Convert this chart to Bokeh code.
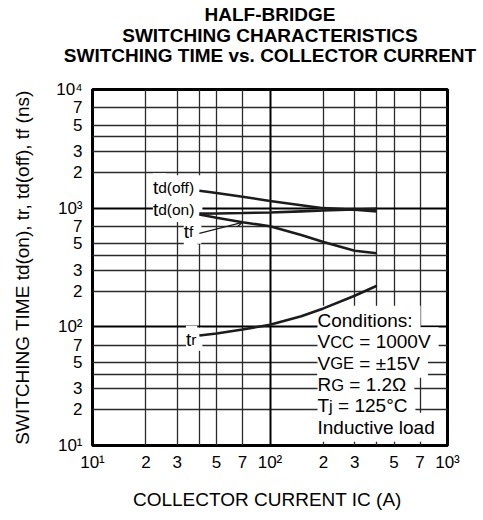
import math
from bokeh.plotting import figure
from bokeh.layouts import column
from bokeh.models import FixedTicker, Label, Arrow, OpenHead, Grid, Div
from bokeh.embed import file_html
from bokeh.resources import INLINE

# ---------------- data ----------------
ic = [40, 50, 70, 100, 150, 200, 300, 400]                      # collector current (A)
td_off = [1400, 1340, 1250, 1150, 1060, 1000, 970, 940]          # ns
td_on = [900, 903, 910, 920, 940, 955, 975, 990]                 # ns
tf = [885, 830, 760, 705, 595, 518, 438, 417]                    # ns
tr = [84.5, 88, 95, 104, 123, 143, 183, 222]                     # ns

x_ticks = [10, 20, 30, 50, 70, 100, 200, 300, 500, 700, 1000]
x_tick_labels = ["10¹", "2", "3", "5", "7", "10²", "2", "3", "5", "7", "10³"]
y_ticks = [10, 20, 30, 50, 70, 100, 200, 300, 500, 700, 1000, 2000, 3000, 5000, 7000, 10000]
y_tick_labels = ["10¹", "2", "3", "5", "7", "10²", "2", "3", "5", "7", "10³", "2", "3", "5", "7", "10⁴"]
x_fine_grid = [20, 30, 40, 50, 70, 200, 300, 400, 500, 700]
x_decade_grid = [100]
y_fine_grid = [20, 30, 40, 50, 70, 200, 300, 400, 500, 700, 2000, 3000, 4000, 5000, 7000]
y_decade_grid = [100, 1000]

title_lines = ["HALF-BRIDGE", "SWITCHING CHARACTERISTICS", "SWITCHING TIME vs. COLLECTOR CURRENT"]
x_label = "COLLECTOR CURRENT  IC (A)"
y_label = "SWITCHING TIME td(on), tr, td(off), tf (ns)"

# (text, is_subscript) pieces
lbl_td_off = [("t", False), ("d(off)", True)]
lbl_td_on = [("t", False), ("d(on)", True)]
lbl_tf = [("t", False), ("f", True)]
lbl_tr = [("t", False), ("r", True)]
conditions = [
    [("Conditions:", False)],
    [("V", False), ("CC", True), (" = 1000V", False)],
    [("V", False), ("GE", True), (" = ±15V", False)],
    [("R", False), ("G", True), (" = 1.2Ω", False)],
    [("T", False), ("j", True), (" = 125°C", False)],
    [("Inductive load", False)],
]

# ---------------- styling ----------------
FONT = "Liberation Sans"
MAIN = 19
SUB_CURVE = 15.5
SUB_COND = 16.5
FRAME_W, FRAME_H = 355, 356
PX_PER_DECADE_Y = FRAME_H / 3.0
CURVE_COLOR = "#1c1c1c"
BORDER_L, BORDER_R, BORDER_T, BORDER_B = 92, 28, 23, 66
TITLE_TOP, TITLE_LINE = 5, 20.5
BASELINE_SHIFT = 8 - 0.36 * MAIN   # from visual centre to the text's alphabetic baseline

ADV = {' ': 278, '(': 333, ')': 333, ',': 278, '-': 333, '.': 278, ':': 278,
       '=': 584, '±': 584, '°': 400, 'Ω': 768,
       'A': 667, 'B': 667, 'C': 722, 'D': 722, 'E': 667, 'F': 611, 'G': 778,
       'H': 722, 'I': 278, 'L': 556, 'M': 833, 'N': 722, 'O': 778, 'R': 722,
       'S': 667, 'T': 611, 'U': 722, 'V': 667, 'W': 944,
       'a': 556, 'c': 500, 'd': 556, 'e': 556, 'f': 278, 'i': 222, 'j': 222,
       'l': 222, 'n': 556, 'o': 556, 'r': 333, 's': 500, 't': 278, 'u': 556, 'v': 500}
for ch in "0123456789":
    ADV[ch] = 556


def text_width(s, size):
    return sum(ADV.get(ch, 556) for ch in s) * size / 1000.0


p = figure(x_axis_type="log", y_axis_type="log",
           x_range=(10, 1000), y_range=(10, 10000),
           frame_width=FRAME_W, frame_height=FRAME_H,
           min_border_left=BORDER_L, min_border_right=BORDER_R,
           min_border_top=BORDER_T, min_border_bottom=BORDER_B,
           output_backend="svg", toolbar_location=None)
p.title.visible = False

p.outline_line_color = "black"
p.outline_line_width = 3
p.background_fill_color = "white"
p.border_fill_color = "white"

for ax, ticks, labels in ((p.xaxis, x_ticks, x_tick_labels), (p.yaxis, y_ticks, y_tick_labels)):
    ax.ticker = FixedTicker(ticks=ticks, minor_ticks=[])
    ax.major_label_overrides = {t: l for t, l in zip(ticks, labels)}
    ax.axis_line_color = None
    ax.major_tick_line_color = None
    ax.minor_tick_line_color = None
    ax.major_label_text_font = FONT
    ax.major_label_text_font_size = "17px"
    ax.major_label_text_color = "black"
    ax.axis_label_text_font = FONT
    ax.axis_label_text_font_size = "19px"
    ax.axis_label_text_font_style = "normal"
    ax.axis_label_text_color = "black"

p.xaxis.major_label_standoff = 1
p.yaxis.major_label_standoff = 4
p.xaxis.axis_label = x_label
p.xaxis.axis_label_standoff = 14
p.yaxis.axis_label = y_label
p.yaxis.axis_label_standoff = 20

p.xgrid.ticker = FixedTicker(ticks=x_fine_grid, minor_ticks=[])
p.ygrid.ticker = FixedTicker(ticks=y_fine_grid, minor_ticks=[])
for g in (p.xgrid, p.ygrid):
    g.grid_line_color = "#2a2a2a"
    g.grid_line_width = 1.3
p.add_layout(Grid(dimension=0, ticker=FixedTicker(ticks=x_decade_grid, minor_ticks=[]),
                  grid_line_color="black", grid_line_width=2))
p.add_layout(Grid(dimension=1, ticker=FixedTicker(ticks=y_decade_grid, minor_ticks=[]),
                  grid_line_color="black", grid_line_width=2))

# curves
for series in (td_off, td_on, tf, tr):
    p.line(ic, series, line_color=CURVE_COLOR, line_width=2.6)

# tf leader arrow
p.add_layout(Arrow(end=OpenHead(size=6, line_width=1.3, line_color=CURVE_COLOR),
                   x_start=ic[0], y_start=tf[0] * 10 ** (-19 / PX_PER_DECADE_Y),
                   x_end=ic[2], y_end=tf[2],
                   line_color=CURVE_COLOR, line_width=1.3))

# text pieces: white backgrounds under the curves (hide grid only), then texts
bg_labels = []
fg_labels = []


def put(x, y, pieces, x_off, y_center_off, sub_size, align="left", pad=4):
    sizes = [sub_size if sub else MAIN for _, sub in pieces]
    total = sum(text_width(t, s) for (t, _), s in zip(pieces, sizes))
    cur = x_off if align == "left" else x_off - total
    base = y_center_off + BASELINE_SHIFT
    for (t, _), s in zip(pieces, sizes):
        lead = len(t) - len(t.lstrip(" "))
        cur += text_width(" " * lead, s)
        shown = t.lstrip(" ")
        common = dict(x=x, y=y, x_offset=cur, y_offset=base, text=shown,
                      text_font=FONT, text_font_size=f"{s}px",
                      text_align="left", text_baseline="alphabetic")
        bg_labels.append(Label(**common, text_color="white", background_fill_color="white",
                               padding=pad, level="underlay"))
        fg_labels.append(Label(**common, text_color="black"))
        cur += text_width(shown, s)


put(ic[0], td_off[0], lbl_td_off, -5, 2, SUB_CURVE, align="right")
put(ic[0], td_on[0], lbl_td_on, -5, 3, SUB_CURVE, align="right")
put(ic[0], tf[0], lbl_tf, -6, -18, SUB_CURVE, align="right")
put(ic[0], tr[0], lbl_tr, -3, -5, SUB_CURVE, align="right", pad=3)

n = len(conditions)
for i, line in enumerate(conditions):
    put(1000, 10, line, -130, 17 + (n - 1 - i) * 21.4, SUB_COND, align="left")

for lab in bg_labels + fg_labels:
    p.add_layout(lab)

# title block, centred over the plot frame
frame_center = BORDER_L + FRAME_W / 2.0
title_w = 420
title_div = Div(text="<br>".join(title_lines),
                width=title_w, height=int(TITLE_LINE * len(title_lines)),
                margin=(TITLE_TOP, 0, 0, int(round(frame_center - title_w / 2.0))),
                styles={"font-family": FONT, "font-size": "19px", "font-weight": "bold",
                        "line-height": f"{TITLE_LINE}px", "text-align": "center",
                        "color": "black", "white-space": "nowrap"})

layout = column(title_div, p, spacing=0)
open("out.html", "w").write(file_html(layout, INLINE))
